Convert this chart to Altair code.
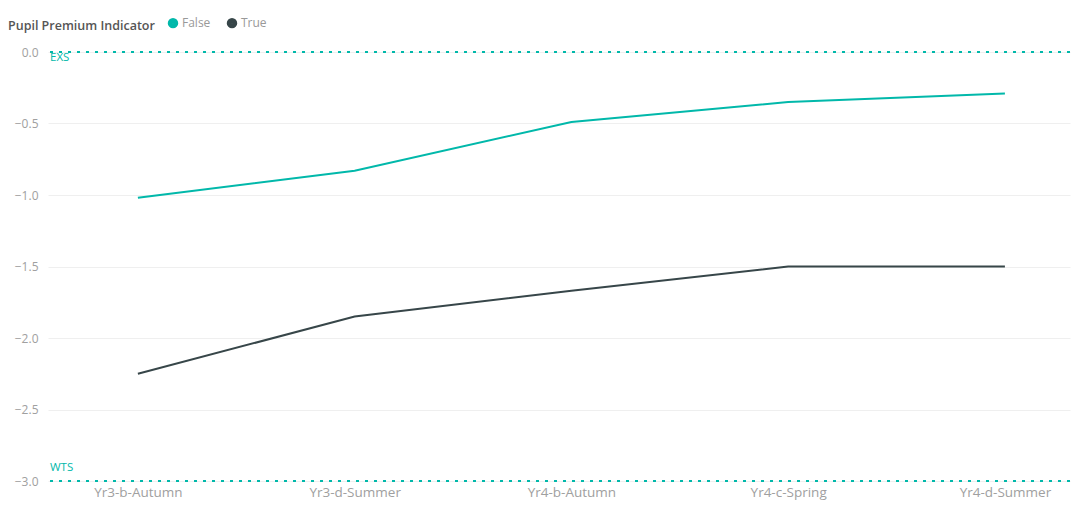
import altair as alt
import pandas as pd

periods = ["Yr3-b-Autumn", "Yr3-d-Summer", "Yr4-b-Autumn", "Yr4-c-Spring", "Yr4-d-Summer"]
false_vals = [-1.02, -0.83, -0.49, -0.35, -0.29]
true_vals = [-2.25, -1.85, -1.67, -1.50, -1.50]
ref_values = [0.0, -3.0]
ref_labels = ["EXS", "WTS"]

rows = []
for p, v in zip(periods, false_vals):
    rows.append({"Period": p, "Value": v, "Pupil Premium Indicator": "False"})
for p, v in zip(periods, true_vals):
    rows.append({"Period": p, "Value": v, "Pupil Premium Indicator": "True"})
df = pd.DataFrame(rows)
ref_df = pd.DataFrame({"y": ref_values, "label": ref_labels})

FONT = "Open Sans"
TEAL = "#01B8AA"
DARK = "#374649"

x_enc = alt.X("Period:N", sort=periods, title=None,
              scale=alt.Scale(type="point", padding=0.3575, align=0.58),
              axis=alt.Axis(labelAngle=0, ticks=False, domain=False, labelColor="#a0a0a0",
                            labelFontSize=13.5, labelFont=FONT, labelPadding=4, grid=False))
y_scale = alt.Scale(domain=[-3, 0], nice=False, zero=False)
y_axis = alt.Axis(values=[0, -0.5, -1, -1.5, -2, -2.5, -3], format=".1f", ticks=False,
                  domain=False, labelColor="#a0a0a0", labelFontSize=12, labelFont=FONT,
                  labelPadding=10, gridColor="#efefef", gridWidth=1)

lines = alt.Chart(df).mark_line(strokeWidth=2).encode(
    x=x_enc,
    y=alt.Y("Value:Q", scale=y_scale, title=None, axis=y_axis),
    color=alt.Color("Pupil Premium Indicator:N",
                    scale=alt.Scale(domain=["False", "True"], range=[TEAL, DARK]),
                    legend=alt.Legend(orient="none", legendX=-40, legendY=-35, direction="horizontal",
                                      titleOrient="left", symbolType="circle", symbolSize=30,
                                      symbolStrokeWidth=5, titleFont=FONT, titleFontSize=12.5,
                                      titleColor="#555555", titleFontWeight=600,
                                      labelFont=FONT, labelFontSize=12, labelColor="#999999",
                                      columnPadding=8, labelOffset=3, titlePadding=12)),
)

rules = alt.Chart(ref_df).mark_rule(color=TEAL, strokeWidth=2, strokeDash=[3, 6]).encode(
    y=alt.Y("y:Q", scale=y_scale, title=None, axis=y_axis),
)

exs = alt.Chart(ref_df).transform_filter(alt.datum.label == "EXS").mark_text(
    color=TEAL, align="left", baseline="top", fontSize=11.5, font=FONT, dx=2, dy=0).encode(
    x=alt.value(0),
    y=alt.Y("y:Q", scale=y_scale, title=None, axis=y_axis),
    text="label:N",
)
wts = alt.Chart(ref_df).transform_filter(alt.datum.label == "WTS").mark_text(
    color=TEAL, align="left", baseline="bottom", fontSize=11.5, font=FONT, dx=2, dy=-8).encode(
    x=alt.value(0),
    y=alt.Y("y:Q", scale=y_scale, title=None, axis=y_axis),
    text="label:N",
)

chart = alt.layer(lines, rules, exs, wts).properties(
    width=1022, height=429,
    background="white",
    autosize=alt.AutoSizeParams(type="none"),
    padding={"left": 48, "top": 52, "right": 6, "bottom": 25},
).configure_view(strokeWidth=0, stroke="transparent").configure_axis(domain=False)

chart.save("out.html", embed_options={"renderer": "svg", "actions": False})
